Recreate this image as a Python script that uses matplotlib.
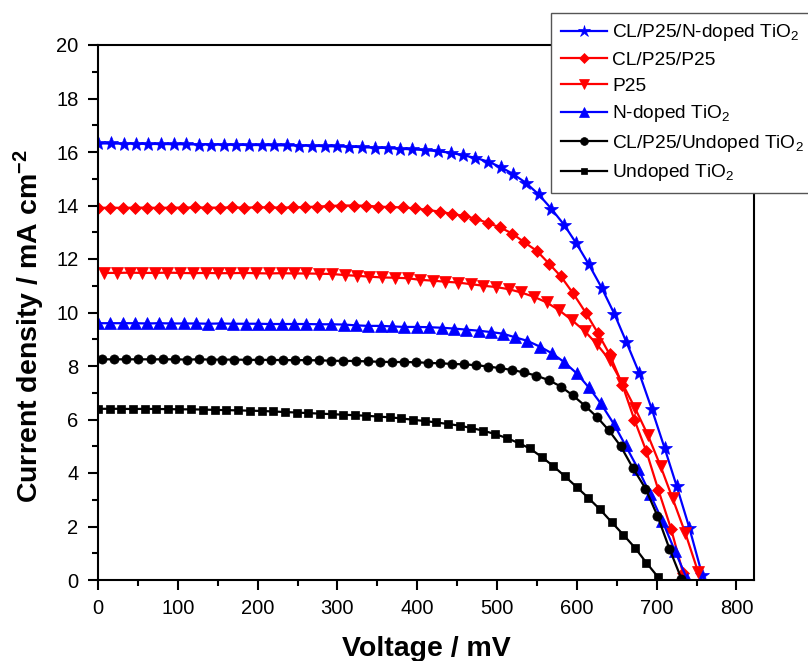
import matplotlib
matplotlib.use("Agg")
import matplotlib.pyplot as plt

plt.rcParams['font.family'] = ['Liberation Sans', 'DejaVu Sans']
plt.rcParams['mathtext.fontset'] = 'custom'
plt.rcParams['mathtext.rm'] = 'Liberation Sans'
plt.rcParams['mathtext.it'] = 'Liberation Sans:italic'
plt.rcParams['mathtext.bf'] = 'Liberation Sans:bold'
plt.rcParams['mathtext.default'] = 'regular'

# ---- data (voltage in mV, current density in mA cm^-2) ----
labels = ["CL/P25/N-doped TiO$_2$", "CL/P25/P25", "P25", "N-doped TiO$_2$",
          "CL/P25/Undoped TiO$_2$", "Undoped TiO$_2$"]

v_star = [0, 16, 32, 47, 63, 79, 95, 110, 126, 142, 158, 173, 189, 205, 221, 237, 252, 268,
          284, 300, 315, 331, 347, 363, 378, 394, 410, 426, 442, 457, 473, 489, 505, 520,
          536, 552, 568, 584, 599, 615, 631, 647, 662, 678, 694, 710, 725, 741, 757]
j_star = [16.32, 16.32, 16.31, 16.31, 16.30, 16.30, 16.29, 16.29, 16.28, 16.28, 16.27, 16.27,
          16.26, 16.26, 16.25, 16.25, 16.24, 16.23, 16.22, 16.21, 16.20, 16.18, 16.16, 16.15,
          16.12, 16.10, 16.07, 16.03, 15.97, 15.88, 15.78, 15.64, 15.43, 15.18, 14.85, 14.42,
          13.88, 13.28, 12.60, 11.80, 10.93, 9.95, 8.90, 7.75, 6.38, 4.93, 3.52, 1.95, 0.20]

v_dia = [0, 15, 31, 46, 61, 76, 92, 107, 122, 137, 153, 168, 183, 199, 214, 229, 244, 260,
         275, 290, 305, 321, 336, 351, 366, 382, 397, 412, 428, 443, 458, 473, 489, 504,
         519, 534, 550, 565, 580, 595, 611, 626, 641, 657, 672, 687, 702, 718, 733]
j_dia = [13.91, 13.92, 13.91, 13.92, 13.92, 13.91, 13.92, 13.92, 13.93, 13.92, 13.92, 13.93,
         13.92, 13.93, 13.93, 13.92, 13.93, 13.94, 13.96, 13.98, 14.00, 14.00, 13.99, 13.96,
         13.94, 13.93, 13.89, 13.84, 13.77, 13.69, 13.61, 13.51, 13.34, 13.18, 12.95, 12.63,
         12.30, 11.83, 11.35, 10.73, 10.00, 9.25, 8.44, 7.30, 6.00, 4.82, 3.38, 1.92, 0.27]

v_tri_d = [8, 24, 40, 55, 71, 87, 103, 119, 135, 150, 166, 182, 198, 214, 230, 245, 261, 277,
           293, 309, 325, 340, 356, 372, 388, 404, 420, 435, 451, 467, 483, 499, 515, 530,
           546, 562, 578, 594, 610, 625, 641, 657, 673, 689, 705, 720, 736, 752]
j_tri_d = [11.48, 11.48, 11.49, 11.48, 11.48, 11.49, 11.48, 11.47, 11.48, 11.47, 11.47, 11.48,
           11.47, 11.46, 11.47, 11.46, 11.46, 11.45, 11.44, 11.40, 11.37, 11.34, 11.31, 11.30,
           11.28, 11.22, 11.19, 11.15, 11.12, 11.06, 11.00, 10.95, 10.87, 10.75, 10.59, 10.38,
           10.08, 9.71, 9.30, 8.82, 8.22, 7.35, 6.42, 5.42, 4.25, 3.05, 1.75, 0.30]

v_tri_u = [0, 15, 31, 46, 62, 77, 92, 108, 123, 138, 154, 169, 185, 200, 215, 231, 246, 261,
           277, 292, 308, 323, 338, 354, 369, 384, 400, 415, 431, 446, 461, 477, 492, 507,
           523, 538, 554, 569, 584, 600, 615, 630, 646, 661, 677, 692, 707, 723, 738]
j_tri_u = [9.60, 9.60, 9.60, 9.60, 9.59, 9.60, 9.59, 9.59, 9.59, 9.58, 9.59, 9.58, 9.58, 9.58,
           9.57, 9.57, 9.57, 9.57, 9.56, 9.56, 9.55, 9.52, 9.50, 9.50, 9.48, 9.46, 9.46, 9.45,
           9.43, 9.40, 9.36, 9.32, 9.27, 9.21, 9.07, 8.94, 8.72, 8.47, 8.15, 7.72, 7.20, 6.60,
           5.85, 5.03, 4.14, 3.20, 2.22, 1.08, 0.05]

v_circ = [5, 20, 35, 50, 66, 81, 96, 111, 126, 141, 156, 171, 187, 202, 217, 232, 247, 262,
          277, 292, 307, 323, 338, 353, 368, 383, 398, 413, 428, 444, 459, 474, 489, 504,
          519, 534, 549, 565, 580, 595, 610, 625, 640, 655, 670, 686, 701, 716, 731]
j_circ = [8.25, 8.25, 8.25, 8.25, 8.25, 8.25, 8.25, 8.24, 8.25, 8.24, 8.24, 8.24, 8.23, 8.23,
          8.23, 8.22, 8.22, 8.22, 8.21, 8.20, 8.19, 8.19, 8.17, 8.16, 8.15, 8.15, 8.14, 8.12,
          8.10, 8.08, 8.06, 8.03, 7.98, 7.92, 7.85, 7.76, 7.64, 7.47, 7.23, 6.90, 6.52, 6.10,
          5.60, 5.00, 4.20, 3.42, 2.40, 1.17, 0.05]

v_sq = [0, 15, 29, 44, 59, 73, 88, 102, 117, 132, 146, 161, 176, 190, 205, 219, 234, 249,
        263, 278, 293, 307, 322, 336, 351, 366, 380, 395, 410, 424, 439, 453, 468, 483,
        497, 512, 527, 541, 556, 570, 585, 600, 614, 629, 644, 658, 673, 687, 702]
j_sq = [6.40, 6.40, 6.40, 6.39, 6.40, 6.39, 6.39, 6.38, 6.38, 6.37, 6.36, 6.35, 6.34, 6.33,
        6.32, 6.30, 6.28, 6.26, 6.24, 6.22, 6.20, 6.18, 6.16, 6.14, 6.11, 6.08, 6.04, 5.99,
        5.94, 5.89, 5.83, 5.77, 5.68, 5.58, 5.46, 5.31, 5.12, 4.92, 4.60, 4.27, 3.88, 3.47,
        3.08, 2.64, 2.15, 1.70, 1.20, 0.65, 0.10]

x_ticks = [0, 100, 200, 300, 400, 500, 600, 700, 800]
y_ticks = [0, 2, 4, 6, 8, 10, 12, 14, 16, 18, 20]

series = [
    (v_star, j_star, '*', 10.5, 'blue'),
    (v_dia, j_dia, 'D', 6.0, 'red'),
    (v_tri_d, j_tri_d, 'v', 8.5, 'red'),
    (v_tri_u, j_tri_u, '^', 8.0, 'blue'),
    (v_circ, j_circ, 'o', 6.6, 'black'),
    (v_sq, j_sq, 's', 5.6, 'black'),
]

fig = plt.figure(figsize=(8.08, 6.61), dpi=100)
ax = fig.add_axes([98 / 808, 1 - 580 / 661, 656 / 808, 535 / 661])

handles = []
for (v, j, m, ms, c), lab in zip(series, labels):
    h, = ax.plot(v, j, linestyle='-', linewidth=1.6, color=c, marker=m,
                 markersize=ms, markerfacecolor=c, markeredgecolor=c,
                 markeredgewidth=0.5, label=lab, clip_on=True)
    handles.append(h)

ax.set_xlim(0, 822)
ax.set_ylim(0, 20)
ax.set_xticks(x_ticks)
ax.set_yticks(y_ticks)
ax.set_xticks([50, 150, 250, 350, 450, 550, 650, 750], minor=True)
ax.set_yticks([1, 3, 5, 7, 9, 11, 13, 15, 17, 19], minor=True)
ax.tick_params(which='major', direction='out', length=7.5, width=1.5, labelsize=14.5)
ax.tick_params(axis='x', which='major', pad=6)
ax.tick_params(axis='y', which='major', pad=6.5)
ax.tick_params(which='minor', direction='out', length=4, width=1.5)
for s in ax.spines.values():
    s.set_linewidth(1.5)

ax.set_xlabel('Voltage / mV', fontsize=20.5, fontweight='bold', labelpad=13)
ax.set_ylabel(r'Current density / mA cm$^{\mathbf{-2}}$', fontsize=20.5,
              fontweight='bold')
ax.yaxis.set_label_coords(-0.078, 0.475)

leg = fig.legend(handles=handles, labels=labels, loc='upper left',
                 bbox_to_anchor=(551 / 808, 1 - 12.7 / 661), borderaxespad=0,
                 fontsize=13.8, frameon=True, fancybox=False, handlelength=2.4,
                 handletextpad=0.3, labelspacing=0.44, borderpad=0.5,
                 markerscale=0.85, framealpha=1)
leg.get_frame().set_edgecolor('#555555')
leg.get_frame().set_linewidth(1.0)

fig.savefig('out.png', dpi=100)
